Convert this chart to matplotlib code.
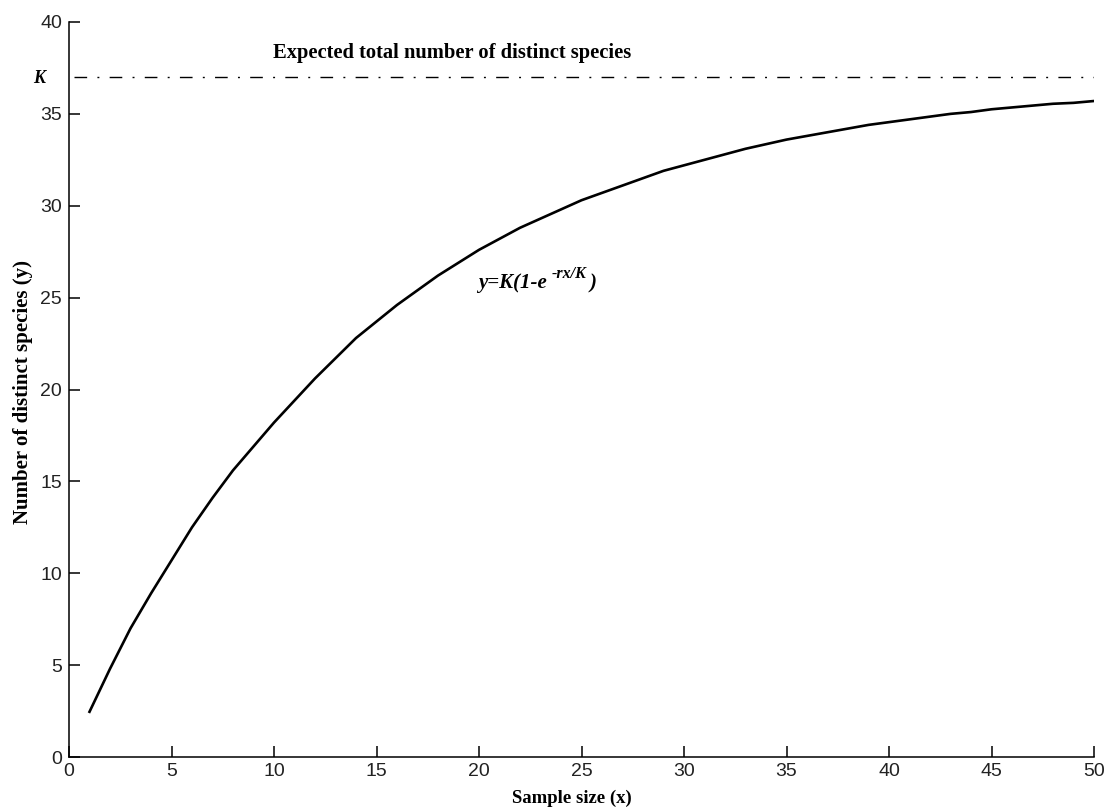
import matplotlib
matplotlib.use("Agg")
import matplotlib.pyplot as plt

# Data
sample_size = list(range(1, 51))
distinct_species = [2.46, 4.8, 7.0, 8.9, 10.7, 12.5, 14.1, 15.6, 16.9, 18.2,
                    19.4, 20.6, 21.7, 22.8, 23.7, 24.6, 25.4, 26.2, 26.9, 27.6,
                    28.2, 28.8, 29.3, 29.8, 30.3, 30.7, 31.1, 31.5, 31.9, 32.2,
                    32.5, 32.8, 33.1, 33.35, 33.6, 33.8, 34.0, 34.2, 34.4, 34.55,
                    34.7, 34.85, 35.0, 35.1, 35.25, 35.35, 35.45, 35.55, 35.6, 35.7]
K_value = 37
x_ticks = [0, 5, 10, 15, 20, 25, 30, 35, 40, 45, 50]
y_ticks = [0, 5, 10, 15, 20, 25, 30, 35, 40]

serif = "Liberation Serif"
sans = "Liberation Sans"

fig = plt.figure(figsize=(11.05, 8.10), dpi=100)
ax = fig.add_axes([69/1105, 53/810, (1094-69)/1105, (757-22)/810])

ax.plot(sample_size, distinct_species, color="black", lw=1.9)
ax.plot([0.24, 50], [K_value, K_value], color="black", lw=1.0,
        ls=(0, (9.1, 7.4, 1.4, 7.4)))

ax.set_xlim(0, 50)
ax.set_ylim(0, 40)
ax.set_xticks(x_ticks)
ax.set_yticks(y_ticks)
ax.tick_params(direction="in", length=8, width=1.1, colors="black",
               labelsize=14)
ax.tick_params(axis="x", pad=4)
ax.tick_params(axis="y", pad=5)
for lab in ax.get_xticklabels() + ax.get_yticklabels():
    lab.set_fontfamily(sans)
    lab.set_color("#222222")

for s in ["top", "right"]:
    ax.spines[s].set_visible(False)
for s in ["left", "bottom"]:
    ax.spines[s].set_linewidth(1.1)

ax.set_xlabel("Sample size (x)", family=serif, fontweight="bold", fontsize=13.5)
ax.xaxis.set_label_coords((572-69)/1025, (757-790)/735)
ax.set_ylabel("Number of distinct species (y)", family=serif,
              fontweight="bold", fontsize=15)
ax.yaxis.set_label_coords((33-69)/1025, (757-392)/735)

ax.text(18.68, 38.04, "Expected total number of distinct species",
        family=serif, fontweight="bold", fontsize=14.8, ha="center",
        va="baseline")
ax.text(-1.46, 36.68, "K", family=serif, fontweight="bold", style="italic",
        fontsize=13, ha="center", va="baseline", clip_on=False)

ax.text(19.95, 25.52, "y=K(1-e", family=serif, fontweight="bold",
        style="italic", fontsize=15, ha="left", va="baseline")
ax.text(23.56, 26.05, "-rx/K", family=serif, fontweight="bold",
        style="italic", fontsize=11.5, ha="left", va="baseline")
ax.text(25.4, 25.52, ")", family=serif, fontweight="bold",
        style="italic", fontsize=15, ha="left", va="baseline")

fig.savefig("out.png", dpi=100)
